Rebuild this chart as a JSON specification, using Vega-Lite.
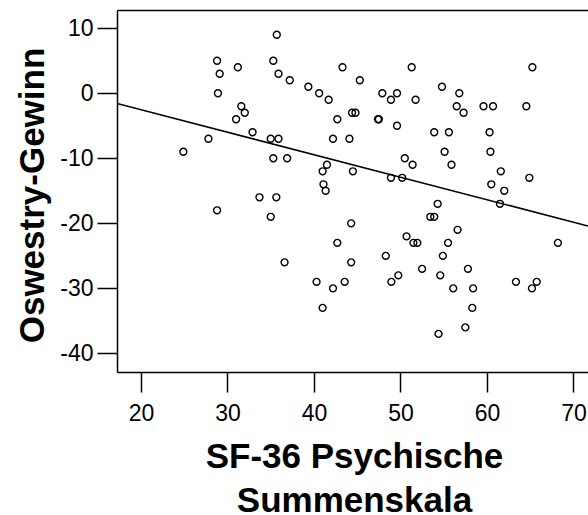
{
  "$schema": "https://vega.github.io/schema/vega-lite/v6.json",
  "width": 471,
  "height": 362,
  "autosize": {"type": "none"},
  "padding": {"left": 117, "top": 10, "right": 0, "bottom": 143},
  "background": "white",
  "config": {
    "view": {"stroke": null},
    "font": "Liberation Sans",
    "axis": {
      "grid": false,
      "labelFont": "Liberation Sans",
      "labelFontSize": 23,
      "labelColor": "#000000",
      "tickColor": "#000000",
      "tickWidth": 1.5,
      "tickSize": 20,
      "domainColor": "#000000",
      "domainWidth": 1.5,
      "titleFont": "Liberation Sans",
      "titleFontSize": 35,
      "titleFontWeight": "bold",
      "titleColor": "#000000"
    }
  },
  "datasets": {
    "points": [
      {"x": 35.7, "y": 9}, {"x": 28.8, "y": 5}, {"x": 29.1, "y": 3}, {"x": 31.2, "y": 4}, {"x": 35.3, "y": 5},
      {"x": 35.9, "y": 3}, {"x": 37.2, "y": 2}, {"x": 28.9, "y": 0}, {"x": 31.6, "y": -2}, {"x": 32.0, "y": -3},
      {"x": 31.0, "y": -4}, {"x": 32.9, "y": -6}, {"x": 27.8, "y": -7}, {"x": 24.9, "y": -9}, {"x": 35.0, "y": -7},
      {"x": 35.9, "y": -7}, {"x": 35.3, "y": -10}, {"x": 36.9, "y": -10}, {"x": 39.35, "y": 1}, {"x": 40.6, "y": 0},
      {"x": 41.7, "y": -1}, {"x": 42.7, "y": -4}, {"x": 42.2, "y": -7}, {"x": 43.3, "y": 4}, {"x": 41.5, "y": -11},
      {"x": 41.0, "y": -12}, {"x": 41.1, "y": -14}, {"x": 41.35, "y": -15},
      {"x": 33.7, "y": -16}, {"x": 35.65, "y": -16}, {"x": 28.8, "y": -18}, {"x": 35.0, "y": -19}, {"x": 42.7, "y": -23},
      {"x": 36.6, "y": -26}, {"x": 40.3, "y": -29}, {"x": 42.2, "y": -30}, {"x": 43.55, "y": -29}, {"x": 41.0, "y": -33},
      {"x": 51.3, "y": 4}, {"x": 65.25, "y": 4}, {"x": 45.3, "y": 2}, {"x": 47.9, "y": 0}, {"x": 49.6, "y": 0},
      {"x": 48.9, "y": -1}, {"x": 51.75, "y": -1}, {"x": 54.8, "y": 1}, {"x": 56.8, "y": 0}, {"x": 56.5, "y": -2},
      {"x": 57.3, "y": -3}, {"x": 59.6, "y": -2}, {"x": 60.7, "y": -2}, {"x": 64.55, "y": -2}, {"x": 44.4, "y": -3},
      {"x": 44.8, "y": -3}, {"x": 47.4, "y": -4}, {"x": 47.5, "y": -4}, {"x": 49.6, "y": -5}, {"x": 44.1, "y": -7},
      {"x": 53.9, "y": -6}, {"x": 55.6, "y": -6}, {"x": 60.3, "y": -6}, {"x": 55.1, "y": -9}, {"x": 60.4, "y": -9},
      {"x": 50.5, "y": -10}, {"x": 51.4, "y": -11}, {"x": 55.9, "y": -11}, {"x": 44.5, "y": -12}, {"x": 48.9, "y": -13},
      {"x": 50.2, "y": -13}, {"x": 61.6, "y": -12}, {"x": 60.5, "y": -14}, {"x": 62.0, "y": -15}, {"x": 64.9, "y": -13},
      {"x": 61.5, "y": -17}, {"x": 54.3, "y": -17}, {"x": 53.45, "y": -19}, {"x": 53.9, "y": -19}, {"x": 44.3, "y": -20},
      {"x": 56.6, "y": -21}, {"x": 50.7, "y": -22}, {"x": 51.5, "y": -23}, {"x": 51.95, "y": -23}, {"x": 55.5, "y": -23},
      {"x": 68.2, "y": -23}, {"x": 48.3, "y": -25}, {"x": 54.9, "y": -25}, {"x": 44.3, "y": -26}, {"x": 52.5, "y": -27},
      {"x": 57.8, "y": -27}, {"x": 54.6, "y": -28}, {"x": 49.75, "y": -28}, {"x": 48.95, "y": -29}, {"x": 56.1, "y": -30},
      {"x": 58.4, "y": -30}, {"x": 63.35, "y": -29}, {"x": 65.75, "y": -29}, {"x": 65.2, "y": -30}, {"x": 58.3, "y": -33},
      {"x": 57.5, "y": -36}, {"x": 54.4, "y": -37}
    ],
    "fit": [
      {"x": 17.23, "y": -1.58},
      {"x": 71.68, "y": -20.4}
    ]
  },
  "layer": [
    {
      "data": {"name": "points"},
      "mark": {"type": "point", "shape": "circle", "filled": false, "stroke": "#000000", "strokeWidth": 1.4, "size": 48, "opacity": 1, "clip": true},
      "encoding": {
        "x": {
          "field": "x", "type": "quantitative",
          "scale": {"domain": [17.23, 71.68], "nice": false, "zero": false},
          "axis": {
            "orient": "bottom",
            "values": [20, 30, 40, 50, 60, 70],
            "labelPadding": 10,
            "title": ["SF-36 Psychische", "Summenskala"],
            "titleLineHeight": 44,
            "titleBaseline": "alphabetic",
            "titleAnchor": "middle",
            "titleX": 237,
            "titleY": 95
          }
        },
        "y": {
          "field": "y", "type": "quantitative",
          "scale": {"domain": [-42.86, 12.8], "nice": false, "zero": false},
          "axis": {
            "values": [10, 0, -10, -20, -30, -40],
            "labelExpr": "'' + datum.value",
            "labelPadding": 4,
            "title": "Oswestry-Gewinn",
            "titleBaseline": "alphabetic",
            "titleAnchor": "middle",
            "titleX": -74,
            "titleY": 185
          }
        }
      }
    },
    {
      "data": {"name": "fit"},
      "mark": {"type": "line", "stroke": "#000000", "strokeWidth": 1.5, "clip": true},
      "encoding": {
        "x": {
          "field": "x", "type": "quantitative",
          "axis": {"orient": "top", "labels": false, "ticks": false, "title": null, "domainColor": "#000000", "domainWidth": 1.5}
        },
        "y": {"field": "y", "type": "quantitative"}
      }
    }
  ],
  "resolve": {"axis": {"x": "independent"}}
}
